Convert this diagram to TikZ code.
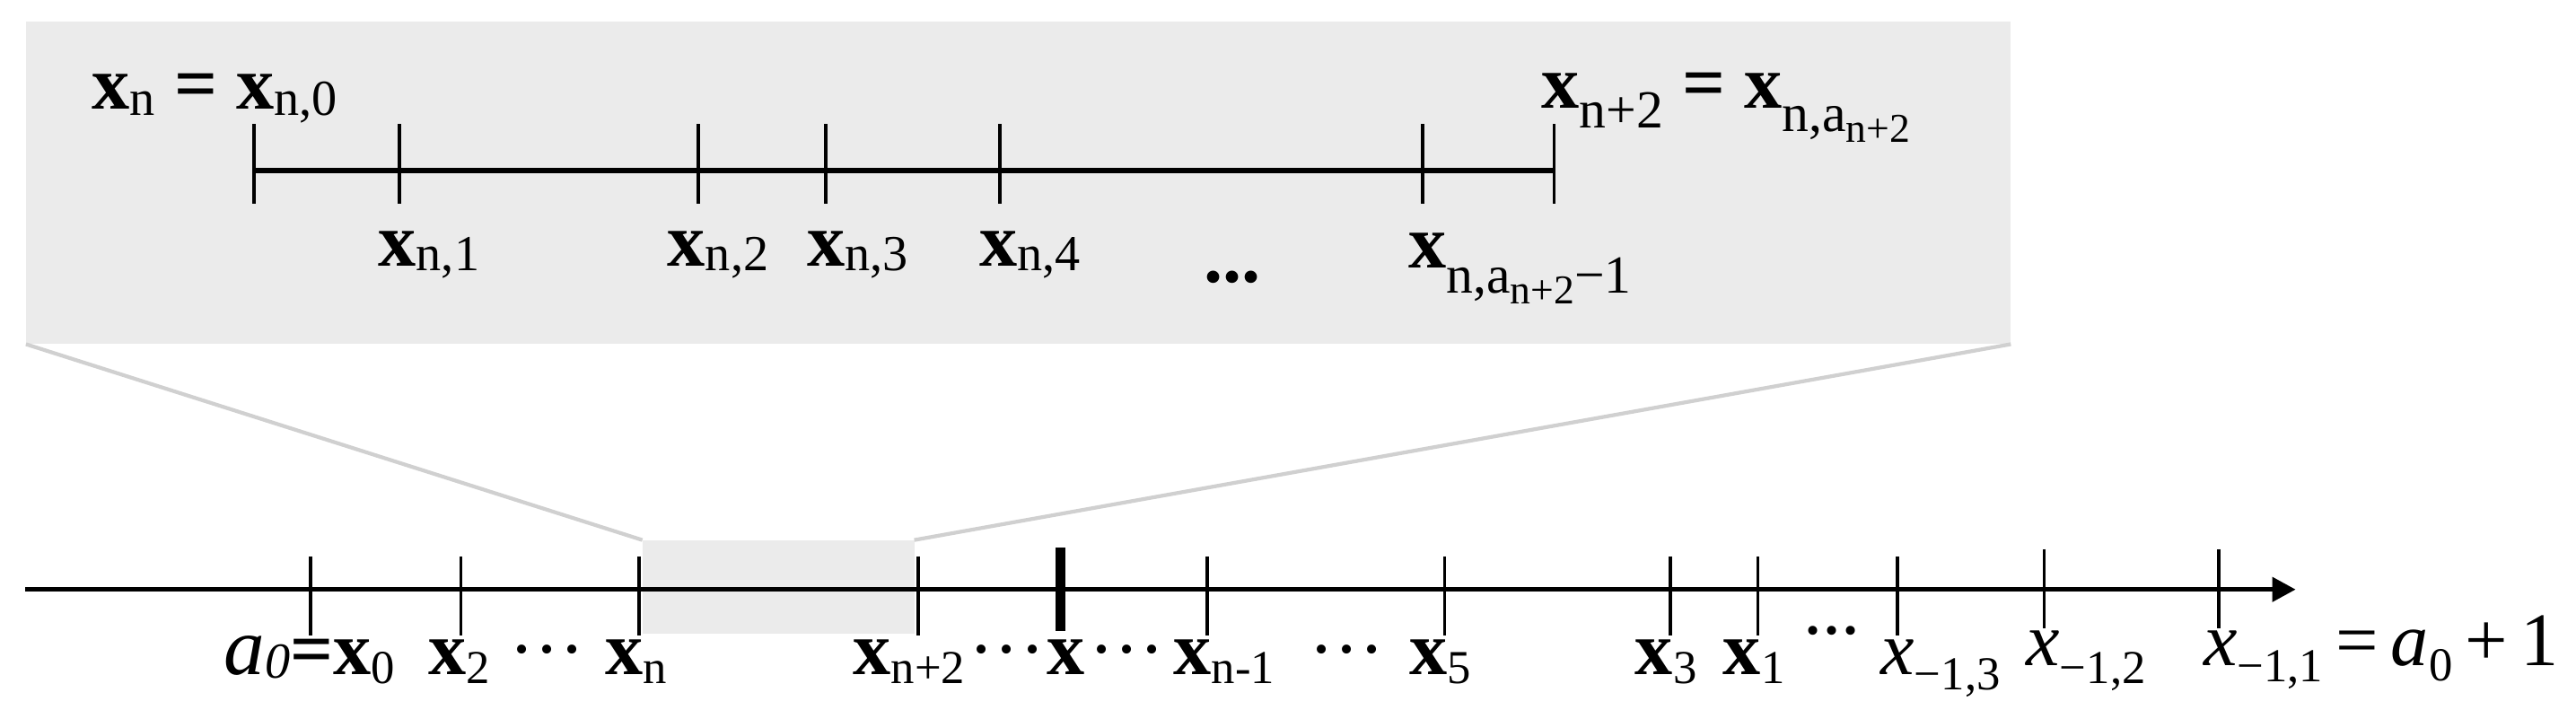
\documentclass[tikz,border=0pt]{standalone}
\usepackage{fontspec}
\setmainfont{Liberation Serif}
\usetikzlibrary{arrows.meta}
\definecolor{boxgray}{HTML}{EBEBEB}
\definecolor{linkgray}{HTML}{D0D0D0}
\newcommand{\bx}{\textbf{x}}
\newcommand{\lo}[3]{\raisebox{-#1}{\fontsize{#2}{#2}\selectfont #3}}
\begin{document}
\begin{tikzpicture}[x=0.018304cm, y=-0.018304cm,
  lbl/.style={inner sep=0pt, anchor=base west, font=\fontsize{24}{28}\selectfont},
  dotlbl/.style={inner sep=0pt, anchor=base, font=\fontsize{24}{28}\selectfont},
  tk/.style={line width=1pt},
  inner line/.style={line width=1.6pt},
  axis line/.style={line width=1.3pt, -{Triangle[length=0.26cm,width=0.27cm]}},
  link/.style={draw=linkgray, line width=1.2pt}]
\useasboundingbox (0,0) rectangle (1568,432);
% zoom box and highlighted interval
\coordinate (bTL) at (15.8,13);
\coordinate (bBL) at (15.8,209.5);
\coordinate (bBR) at (1224,209.5);
\fill[boxgray] (bTL) rectangle (bBR);
\coordinate (rTL) at (391,328.7);
\coordinate (rTR) at (556.5,328.7);
\coordinate (rBR) at (556.5,385.5);
\fill[boxgray] (rTL) rectangle (rBR);
\draw[link] (bBL) -- (rTL);
\draw[link] (bBR) -- (rTR);
% inner segment
\coordinate (iL) at (154.5,103.8);
\coordinate (iR) at (946,103.8);
\draw[inner line] (iL) -- (iR);
\foreach \p [count=\i] in {154.5,243,425,502.5,608.5,866,946}{
  \coordinate (it\i) at (\p,103.8);
  \draw[tk] (\p,75.6) -- (\p,124);
}
% inner labels
\node[lbl] (L0) at (55.8,66.5) {\bx\lo{2pt}{16}{n} \textbf{=} \bx\lo{2pt}{16}{n,0}};
\node[lbl] (L1) at (230,162) {\bx\lo{1.5pt}{16}{n,1}};
\node[lbl] (L2) at (406,162) {\bx\lo{1.5pt}{16}{n,2}};
\node[lbl] (L3) at (491,162) {\bx\lo{1.5pt}{16}{n,3}};
\node[lbl] (L4) at (596,162) {\bx\lo{1.5pt}{16}{n,4}};
\node[dotlbl] (Ld) at (750,172) {\textbf{...}};
\node[lbl] (La) at (857,163) {\bx\lo{8pt}{17}{n,a\lo{3.3pt}{13}{n+2}−1}};
\node[lbl] (Lr) at (938,65.6) {\bx\lo{6.5pt}{17}{n+2} \textbf{=} \bx\lo{7.6pt}{17}{n,a\lo{3.3pt}{13}{n+2}}};
% main axis
\coordinate (aS) at (15.3,358.8);
\coordinate (aE) at (1397.3,358.8);
\draw[axis line] (aS) -- (aE);
\foreach \p [count=\i] in {188.9,280.5,389,558.8,734.8,879.4,1016.7,1069.9,1154.9}{
  \coordinate (t\i) at (\p,358.8);
  \draw[tk] (\p,338.7) -- (\p,387);
}
\foreach \p [count=\i] in {1244.4,1350.5}{
  \coordinate (u\i) at (\p,358.8);
  \draw[tk] (\p,334.2) -- (\p,382.4);
}
\coordinate (tx) at (645.4,358.8);
\draw[line width=3pt] (645.4,333.3) -- (645.4,384.2);
% axis labels
\node[lbl] (B0) at (136,410.7) {{\fontsize{26}{28}\selectfont\textit{a}}\lo{1pt}{16}{\textit{0}}\textbf{=}\bx\lo{2.8pt}{15}{0}};
\node[lbl] (B2) at (260.6,410.7) {\bx\lo{2.8pt}{15}{2}};
\node[dotlbl] (D1) at (333,410.7) {···};
\node[lbl] (Bn) at (368,410.7) {\bx\lo{2.8pt}{15}{n}};
\node[lbl] (Bn2) at (519,410.7) {\bx\lo{2.8pt}{15}{n+2}};
\node[dotlbl] (D2) at (613,410.7) {···};
\node[lbl] (Bx) at (637,410.7) {\bx};
\node[dotlbl] (D3) at (686,410.7) {···};
\node[lbl] (Bn1) at (714,410.7) {\bx\lo{2.8pt}{15}{n-1}};
\node[dotlbl] (D4) at (820,410.7) {···};
\node[lbl] (B5) at (857.7,410.7) {\bx\lo{2.8pt}{15}{5}};
\node[lbl] (B3) at (995,410.7) {\bx\lo{2.8pt}{15}{3}};
\node[lbl] (B1) at (1048.5,410.7) {\bx\lo{2.8pt}{15}{1}};
\node[dotlbl] (D5) at (1115,386) {...};
\node[lbl] (C3) at (1144.5,410.7) {\textit{x}\lo{4.7pt}{15}{−1,3}};
\node[lbl] (C2) at (1233,405.2) {\textit{x}\lo{5.7pt}{15}{−1,2}};
\node[lbl] (C1) at (1341,405.2) {\textit{x}\lo{5pt}{15}{−1,1}\hspace{4pt}=\hspace{4pt}\textit{a}\lo{4.8pt}{15}{0}\hspace{4pt}+\hspace{4pt}1};
\end{tikzpicture}
\end{document}
